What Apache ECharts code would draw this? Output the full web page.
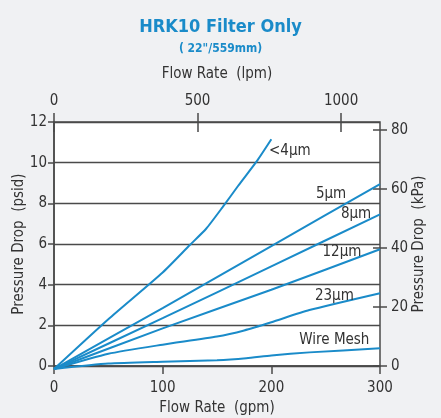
<!DOCTYPE html>
<html><head><meta charset="utf-8">
<script src="https://cdn.jsdelivr.net/npm/echarts@6/dist/echarts.min.js"></script>
<style>html,body{margin:0;padding:0;background:#f0f1f3}#c{width:441px;height:418px}</style>
</head><body><div id="c"></div>
<script>
// ---- data ----
const seriesNames = ['<4μm', '5μm', '8μm', '12μm', '23μm', 'Wire Mesh'];
const lt4 = [[0,-0.15],[50,2.3],[100,4.6],[125,5.95],[140,6.75],[155,7.8],[170,8.9],[187,10.1],[200,11.15]];
const um5 = [[0,-0.15],[100,2.85],[200,5.9],[300,8.95]];
const um8 = [[0,-0.15],[100,2.35],[200,4.9],[300,7.46]];
const um12 = [[0,-0.15],[100,1.85],[200,3.75],[300,5.74]];
const um23 = [[0,-0.15],[50,0.6],[100,1.05],[150,1.45],[175,1.75],[200,2.15],[235,2.75],[300,3.58]];
const wire = [[0,-0.15],[50,0.12],[100,0.21],[150,0.28],[177,0.38],[200,0.52],[235,0.67],[300,0.87]];
const gpmTicks = [0, 100, 200, 300];
const lpmTicks = [0, 500, 1000];
const psidTicks = [0, 2, 4, 6, 8, 10, 12];
const kpaTicks = [0, 20, 40, 60, 80];
const GPM_TO_LPM = 3.78541, PSI_TO_KPA = 6.89476;

const FONT = "'Liberation Sans Narrow','DejaVu Sans Condensed',sans-serif";
const TXT = '#333';
const AX = '#4a4a4a';
const BLUE = '#1a8bc9';
const lineData = [lt4, um5, um8, um12, um23, wire];
const labelAt = [[217,10.57],[255,8.46],[278,7.48],[265,5.61],[258,3.44],[258,1.28]];

const chart = echarts.init(document.getElementById('c'), null, {renderer:'canvas'});
const axisLine = {show:true, onZero:false, lineStyle:{color:AX, width:1.5}};
const noLine = {show:false, onZero:false};
const tickStyle = {color:AX, width:1.5};
const fmt = v => String(v);
const lab = (m, extra) => Object.assign({color:TXT, fontFamily:FONT, fontSize:15, margin:m, formatter:fmt}, extra||{});
const nameStyle = {color:TXT, fontFamily:FONT, fontSize:15};

chart.setOption({
  backgroundColor:'#f0f1f3',
  animation:false,
  title:[
    {text:'HRK10 Filter Only', left:'center', top:13, textStyle:{color:BLUE, fontFamily:FONT, fontWeight:'bold', fontSize:18}},
    {text:'( 22"/559mm)', left:'center', top:38, textStyle:{color:BLUE, fontFamily:FONT, fontWeight:'bold', fontSize:12}}
  ],
  grid:{left:54, right:61, top:122, bottom:52, show:true, backgroundColor:'#fff',
        borderWidth:1.5, borderColor:AX, containLabel:false, outerBoundsMode:'none'},
  xAxis:[
    {type:'value', position:'bottom', min:0, max:300,
     name:'Flow Rate  (gpm)', nameLocation:'middle', nameGap:35, nameMoveOverlap:false, nameTextStyle:nameStyle,
     axisLine:axisLine, axisTick:{show:true, length:8, lineStyle:tickStyle, customValues:gpmTicks},
     axisLabel:lab(15,{customValues:gpmTicks}), splitLine:{show:false}},
    {type:'value', position:'top', min:0, max:300*GPM_TO_LPM, offset:-10,
     name:'Flow Rate  (lpm)', nameLocation:'middle', nameGap:50, nameMoveOverlap:false, nameTextStyle:nameStyle,
     axisLine:noLine, axisTick:{show:true, length:19, lineStyle:tickStyle, customValues:lpmTicks},
     axisLabel:lab(23,{customValues:lpmTicks}), splitLine:{show:false}}
  ],
  yAxis:[
    {type:'value', position:'left', min:0, max:12, interval:2,
     name:'Pressure Drop  (psid)', nameLocation:'middle', nameGap:27, nameRotate:90, nameMoveOverlap:false, nameTextStyle:nameStyle,
     axisLine:axisLine, axisTick:{show:true, length:6, lineStyle:tickStyle, customValues:psidTicks},
     axisLabel:lab(7,{customValues:psidTicks}), splitLine:{show:true, lineStyle:{color:AX, width:1.4}}},
    {type:'value', position:'right', min:0, max:12*PSI_TO_KPA, offset:-7,
     name:'Pressure Drop  (kPa)', nameLocation:'middle', nameGap:39, nameRotate:90, nameMoveOverlap:false, nameTextStyle:nameStyle,
     axisLine:noLine, axisTick:{show:true, length:14, lineStyle:tickStyle, customValues:kpaTicks},
     axisLabel:lab(18,{customValues:kpaTicks}), splitLine:{show:false}}
  ],
  series: seriesNames.map((n,i) => ({
    name:n, type:'line', xAxisIndex:0, yAxisIndex:0, data:lineData[i],
    showSymbol:false, symbol:'none', clip:false, smooth:0.2, silent:true,
    lineStyle:{color:BLUE, width:2},
    markPoint:{symbol:'circle', symbolSize:0, silent:true,
      data:[{coord:labelAt[i], value:n}],
      label:{show:true, position:'inside', formatter:n, color:TXT, fontFamily:FONT, fontSize:15}}
  }))
});
</script></body></html>
